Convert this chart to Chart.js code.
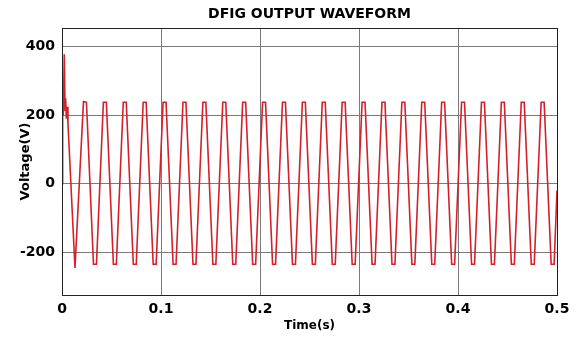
<!DOCTYPE html>
<html>
<head>
<meta charset="utf-8">
<script src="https://cdn.jsdelivr.net/npm/chart.js@4.4.0/dist/chart.umd.min.js"></script>
<style>
    body{ margin:0; background:#fff; }
    #myChart{ display:block; }
</style>
</head>
<body>
<canvas id="myChart" width="576" height="345"></canvas>
<script>
// start transient
const startTime = [0, 0.0004, 0.0009, 0.0013, 0.0023, 0.0031, 0.0037, 0.0044, 0.0052, 0.006, 0.0131];
const startVolt = [0, 190, 260, 200, 378, 215, 250, 190, 225, 178, -246];

// corners of the steady clipped wave (peak pair, trough pair, ...)
const waveTime = [
    0.0217, 0.0247, 0.0318, 0.0348, 0.0418, 0.0448, 0.0519, 0.0549,
    0.0619, 0.0649, 0.0720, 0.0750, 0.0820, 0.0850, 0.0921, 0.0951,
    0.1021, 0.1051, 0.1122, 0.1152, 0.1222, 0.1252, 0.1323, 0.1353,
    0.1423, 0.1453, 0.1524, 0.1554, 0.1624, 0.1654, 0.1725, 0.1755,
    0.1825, 0.1855, 0.1926, 0.1956, 0.2026, 0.2056, 0.2127, 0.2157,
    0.2227, 0.2257, 0.2328, 0.2358, 0.2428, 0.2458, 0.2529, 0.2559,
    0.2629, 0.2659, 0.2730, 0.2760, 0.2830, 0.2860, 0.2931, 0.2961,
    0.3031, 0.3061, 0.3132, 0.3162, 0.3232, 0.3262, 0.3333, 0.3363,
    0.3433, 0.3463, 0.3534, 0.3564, 0.3634, 0.3664, 0.3735, 0.3765,
    0.3835, 0.3865, 0.3936, 0.3966, 0.4036, 0.4066, 0.4137, 0.4167,
    0.4237, 0.4267, 0.4338, 0.4368, 0.4438, 0.4468, 0.4539, 0.4569,
    0.4639, 0.4669, 0.4740, 0.4770, 0.4840, 0.4870, 0.4941, 0.4971,
    0.5
];
const waveVolt = [
    240, 238, -235, -235, 238, 238, -235, -235,
    238, 238, -235, -235, 238, 238, -235, -235,
    238, 238, -235, -235, 238, 238, -235, -235,
    238, 238, -235, -235, 238, 238, -235, -235,
    238, 238, -235, -235, 238, 238, -235, -235,
    238, 238, -235, -235, 238, 238, -235, -235,
    238, 238, -235, -235, 238, 238, -235, -235,
    238, 238, -235, -235, 238, 238, -235, -235,
    238, 238, -235, -235, 238, 238, -235, -235,
    238, 238, -235, -235, 238, 238, -235, -235,
    238, 238, -235, -235, 238, 238, -235, -235,
    238, 238, -235, -235, 238, 238, -235, -235,
    -20
];

const xTicks = [0, 0.1, 0.2, 0.3, 0.4, 0.5];
const yTicks = [-200, 0, 200, 400];
const chartTitle = 'DFIG OUTPUT WAVEFORM';

var points = [];
for(let i=0; i<startTime.length; i++){
    points.push({x: startTime[i], y: startVolt[i]});
}
for(let i=0; i<waveTime.length; i++){
    points.push({x: waveTime[i], y: waveVolt[i]});
}

// box round the plot like matlab, title centred over the axes
const boxPlugin = {
    id: 'box',
    afterDraw(chart){
        const a = chart.chartArea;
        const ctx = chart.ctx;
        ctx.save();
        ctx.strokeStyle = '#222';
        ctx.lineWidth = 1;
        ctx.strokeRect(Math.round(a.left)+0.5, Math.round(a.top)+0.5, Math.round(a.right-a.left), Math.round(a.bottom-a.top));
        ctx.fillStyle = '#000';
        ctx.font = 'bold 14px "DejaVu Sans"';
        ctx.textAlign = 'center';
        ctx.textBaseline = 'middle';
        ctx.fillText(chartTitle, (a.left+a.right)/2, 14.5);
        ctx.restore();
    }
};

const tickFont = {family: 'DejaVu Sans', size: 14, weight: 'bold'};

var ctx = document.getElementById("myChart").getContext("2d");
window.myChart = new Chart(ctx, {
    type: 'line',
    data: {
        datasets: [{
            data: points,
            borderColor: '#d3212b',
            borderWidth: 1.6,
            pointRadius: 0,
            tension: 0,
            fill: false
        }]
    },
    options: {
        responsive: false,
        animation: false,
        layout: {padding: {left: 0, right: 19, top: 28, bottom: 0}},
        plugins: {
            legend: {display: false},
            tooltip: {enabled: false},
            title: {display: false}
        },
        scales: {
            x: {
                type: 'linear',
                min: 0,
                max: 0.5,
                afterBuildTicks: s => { s.ticks = xTicks.map(v => ({value: v})); },
                afterFit: s => { s.height = 50; },
                ticks: {
                    color: '#000',
                    font: tickFont,
                    padding: 6,
                    maxRotation: 0,
                    callback: v => String(v)
                },
                grid: {color: '#7a7a7a', lineWidth: 1, drawTicks: false},
                border: {color: '#222'},
                title: {
                    display: true,
                    text: 'Time(s)',
                    color: '#000',
                    font: {family: 'DejaVu Sans', size: 12, weight: 'bold'},
                    padding: {top: 0, bottom: 12}
                }
            },
            y: {
                min: -325,
                max: 455,
                afterBuildTicks: s => { s.ticks = yTicks.map(v => ({value: v})); },
                afterFit: s => { s.width = 62; },
                ticks: {
                    color: '#000',
                    font: tickFont,
                    padding: 7,
                    callback: v => String(v)
                },
                grid: {color: '#7a7a7a', lineWidth: 1, drawTicks: false},
                border: {color: '#222'},
                title: {
                    display: true,
                    text: 'Voltage(V)',
                    color: '#000',
                    font: {family: 'DejaVu Sans', size: 13, weight: 'bold'},
                    padding: {top: 18, bottom: 0}
                }
            }
        }
    },
    plugins: [boxPlugin]
});
</script>
</body>
</html>
